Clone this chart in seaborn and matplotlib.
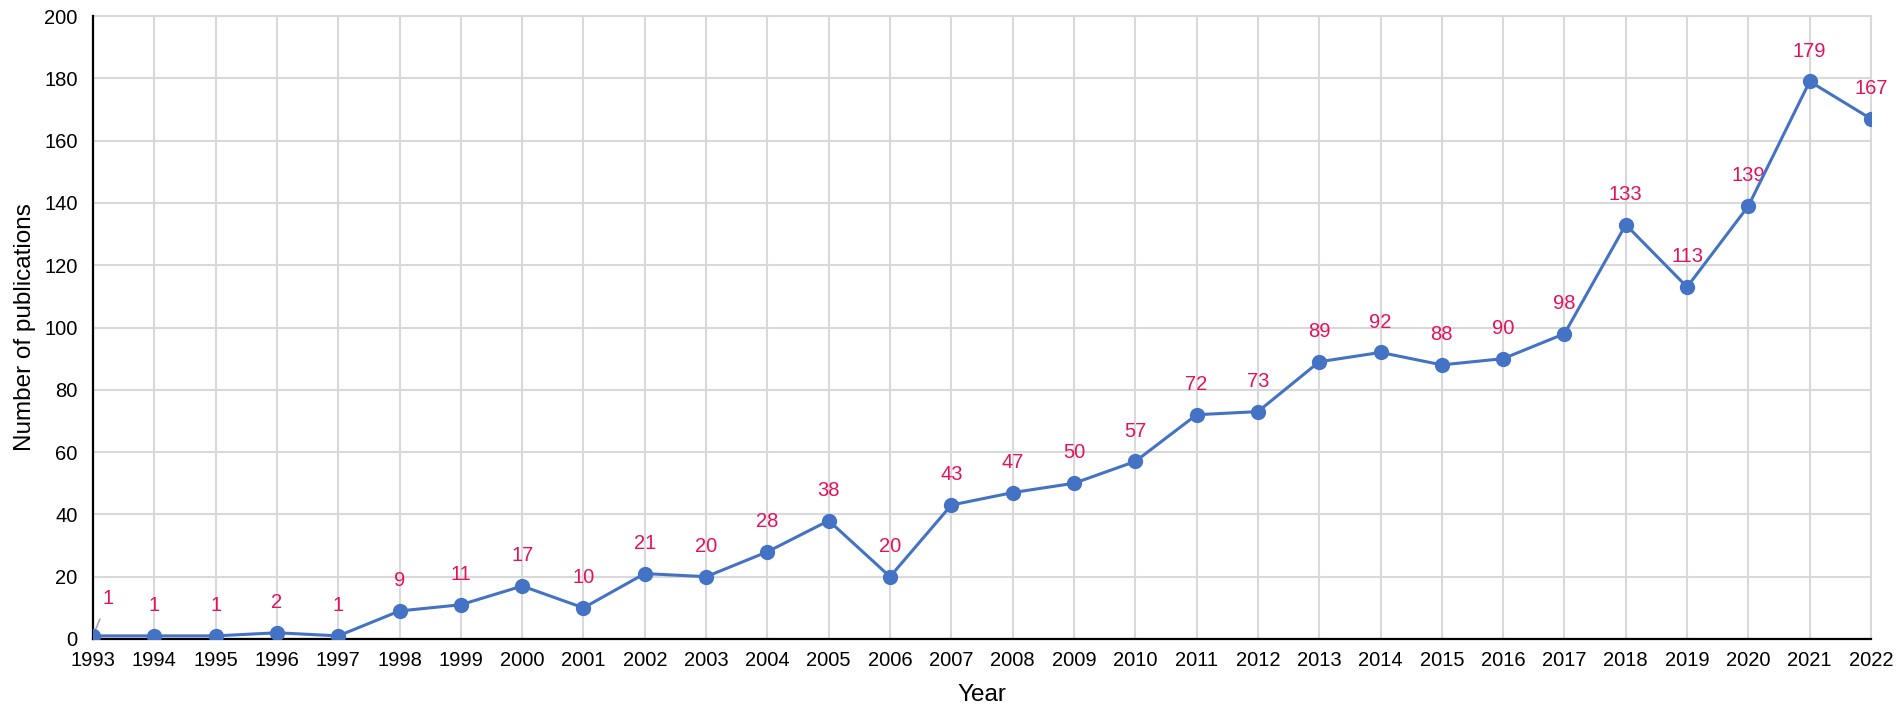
import numpy as np
import pandas as pd
import matplotlib
matplotlib.use("Agg")
import matplotlib.pyplot as plt
import seaborn as sns

# 数据
years = list(range(1993, 2023))
publications = [1, 1, 1, 2, 1, 9, 11, 17, 10, 21, 20, 28, 38, 20, 43,
                47, 50, 57, 72, 73, 89, 92, 88, 90, 98, 133, 113, 139, 179, 167]

line_color = "#4472C4"
label_color = "#E5115E"

sns.set_theme(style="whitegrid")
plt.rcParams['font.family'] = ['Liberation Sans', 'DejaVu Sans']

df = pd.DataFrame({"Year": years, "Count": publications})

fig = plt.figure(figsize=(19.02, 7.15), dpi=100)
ax = fig.add_axes([0.0489, 0.1063, 0.9348, 0.8713])

sns.lineplot(data=df, x="Year", y="Count", ax=ax, color=line_color,
             linewidth=2.2, marker="o", markersize=11,
             markeredgecolor=line_color, markeredgewidth=0, zorder=4)

# 数据标签
for i, (x, y) in enumerate(zip(years, publications)):
    if i == 0:
        ax.annotate(str(y), xy=(x, y), xytext=(11, 20), textcoords="offset points",
                    ha="center", va="bottom", color=label_color, fontsize=14.5,
                    arrowprops=dict(arrowstyle="-", color="#A6A6A6", lw=1.2,
                                    shrinkA=6, shrinkB=2))
    else:
        ax.annotate(str(y), xy=(x, y), xytext=(0, 15), textcoords="offset points",
                    ha="center", va="bottom", color=label_color, fontsize=14.5)

ax.set_xlim(1993, 2022)
ax.set_ylim(0, 200)
ax.set_xticks(years)
ax.set_yticks(np.arange(0, 201, 20))
ax.tick_params(axis="both", labelsize=14.5, colors="black", direction="in",
               length=5, width=1.2)
ax.tick_params(axis="x", length=0, pad=9)
ax.tick_params(axis="y", pad=11)

ax.grid(True, color="#D9D9D9", linewidth=1.5)
for side in ["top", "right"]:
    ax.spines[side].set_color("#D9D9D9")
    ax.spines[side].set_linewidth(1.5)
for side in ["left", "bottom"]:
    ax.spines[side].set_color("black")
    ax.spines[side].set_linewidth(1.6)
    ax.spines[side].set_zorder(3)

ax.set_xlabel("Year", fontsize=17.5, color="black", labelpad=10)
ax.set_ylabel("Number of publications", fontsize=17.5, color="black", labelpad=6)

fig.savefig("out.png", dpi=100)
plt.close(fig)
